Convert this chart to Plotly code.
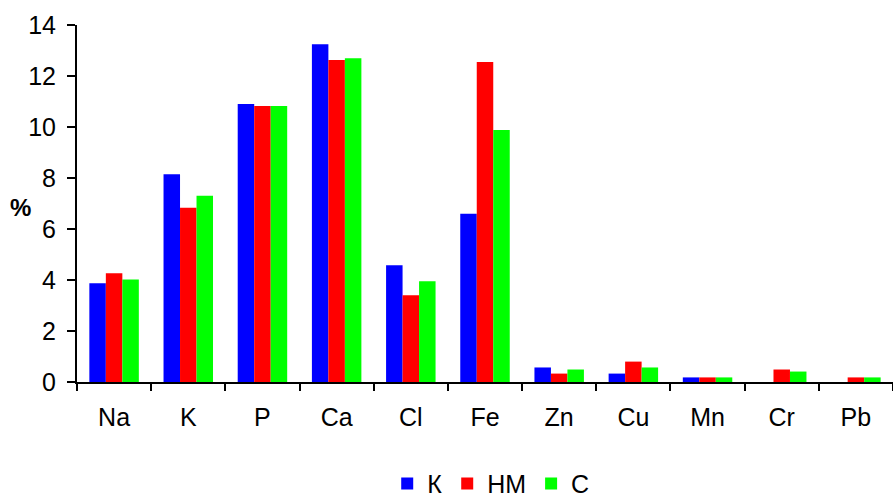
import plotly.graph_objects as go

elements = ["Na", "K", "P", "Ca", "Cl", "Fe", "Zn", "Cu", "Mn", "Cr", "Pb"]
series_names = ["К", "НМ", "С"]
values_k = [3.87, 8.15, 10.9, 13.25, 4.58, 6.6, 0.57, 0.33, 0.18, 0.0, 0.0]
values_nm = [4.26, 6.83, 10.82, 12.63, 3.4, 12.55, 0.33, 0.8, 0.18, 0.49, 0.18]
values_c = [4.02, 7.3, 10.82, 12.7, 3.95, 9.88, 0.49, 0.57, 0.18, 0.41, 0.18]
colors = ["#0000FF", "#FF0000", "#00FF00"]
y_ticks = [0, 2, 4, 6, 8, 10, 12, 14]

FONT = "Liberation Sans, Arial, sans-serif"
FS = 25

fig = go.Figure()
for name, vals, col in zip(series_names, [values_k, values_nm, values_c], colors):
    fig.add_trace(go.Bar(
        x=elements, y=vals, name=name,
        marker=dict(color=col, line=dict(width=0)),
    ))

fig.update_layout(
    width=893, height=498,
    margin=dict(l=77, r=0, t=25, b=116, autoexpand=False),
    paper_bgcolor="white", plot_bgcolor="white",
    barmode="group", bargap=0.333, bargroupgap=0,
    font=dict(family=FONT, size=FS, color="black"),
    showlegend=True,
    legend=dict(
        orientation="h", x=0.507, xanchor="center",
        y=-0.285, yanchor="middle",
        font=dict(size=FS), itemwidth=30,
        traceorder="normal",
    ),
    xaxis=dict(
        type="category", showline=True, linecolor="black", linewidth=2,
        ticks="outside", ticklen=7, tickwidth=2, tickcolor="black",
        tickson="boundaries", showgrid=False, zeroline=False,
        tickfont=dict(size=FS), ticklabelstandoff=12,
    ),
    yaxis=dict(
        range=[0, 14], tickvals=y_ticks, showline=True, linecolor="black",
        linewidth=2, ticks="outside", ticklen=8, tickwidth=2, tickcolor="black",
        showgrid=False, zeroline=False, tickfont=dict(size=FS),
        ticklabelstandoff=6,
    ),
)

fig.add_annotation(
    text="<b>%</b>", xref="paper", yref="y", x=-0.069, y=6.85,
    xanchor="center", yanchor="middle", showarrow=False,
    font=dict(family=FONT, size=24, color="black"),
)

fig.write_html("out.html")
